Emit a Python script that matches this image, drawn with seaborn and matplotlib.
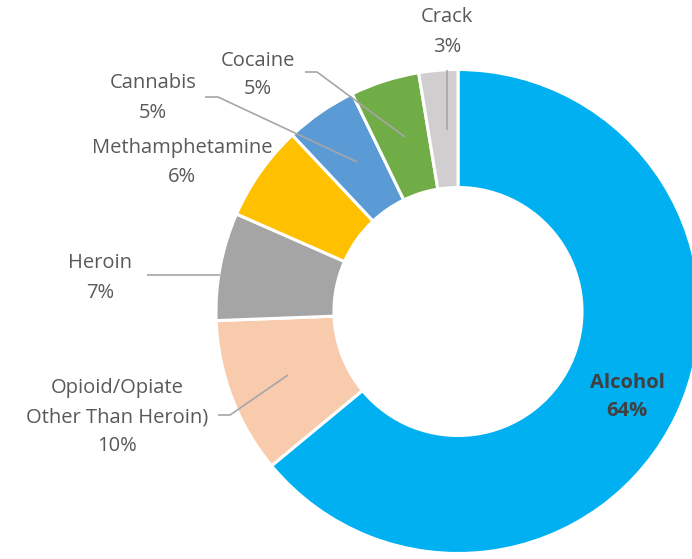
import matplotlib
matplotlib.use("Agg")
import matplotlib.pyplot as plt
import seaborn as sns

# ---- data ----
categories = ["Alcohol", "Opioid/Opiate\nOther Than Heroin)", "Heroin",
              "Methamphetamine", "Cannabis", "Cocaine", "Crack"]
values = [64.0, 10.4, 7.2, 6.4, 4.8, 4.6, 2.6]
colors = ["#00B0F0", "#F8CBAD", "#A5A5A5", "#FFC000", "#5B9BD5", "#70AD47", "#D0CECE"]

sns.set_theme(style="white")
plt.rcParams['font.family'] = ['Open Sans', 'DejaVu Sans']

W, H = 692, 559
fig = plt.figure(figsize=(W / 100, H / 100), dpi=100)
ax = fig.add_axes([0, 0, 1, 1])
ax.set_xlim(0, W)
ax.set_ylim(0, H)
ax.set_aspect("equal")
ax.axis("off")

cx, cy = 458, H - 311.5
R = 242
ring = 118

palette = sns.color_palette(colors)
ax.pie(values, colors=palette, startangle=90, counterclock=False,
       center=(cx, cy), radius=R, frame=True,
       wedgeprops=dict(width=ring, edgecolor="white", linewidth=2.2))
ax.set_xlim(0, W)
ax.set_ylim(0, H)
ax.axis("off")

labels = [f"{c}\n{v:.0f}%" for c, v in zip(categories, values)]

# label layout (pixel coords, y from top)
label_pos = {
    "Alcohol": (627, 397),
    "Opioid/Opiate\nOther Than Heroin)": (117, 417),
    "Heroin": (100, 278),
    "Methamphetamine": (182, 163),
    "Cannabis": (153, 98),
    "Cocaine": (258, 75),
    "Crack": (447, 32),
}
leaders = {
    "Opioid/Opiate\nOther Than Heroin)": [(218, 415), (230, 415), (288, 375)],
    "Heroin": [(147, 275), (220, 275)],
    "Cannabis": [(205, 97), (218, 97), (357, 162)],
    "Cocaine": [(305, 72), (317, 72), (405, 137)],
    "Crack": [(447, 70), (447, 130)],
}

for cat, lab in zip(categories, labels):
    x, y = label_pos[cat]
    if cat == "Alcohol":
        ax.text(x, H - y, lab, ha="center", va="center", fontsize=14.5,
                color="#404040", fontweight="bold", linespacing=1.6)
    else:
        ax.text(x, H - y, lab, ha="center", va="center", fontsize=14.5,
                color="#595959", linespacing=1.6)
    if cat in leaders:
        pts = leaders[cat]
        ax.plot([p[0] for p in pts], [H - p[1] for p in pts],
                color="#A6A6A6", linewidth=1.2, solid_capstyle="butt")

fig.savefig("out.png", dpi=100, facecolor="white")
